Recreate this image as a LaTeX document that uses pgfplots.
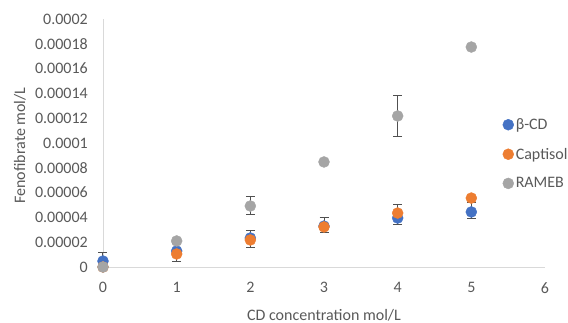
\documentclass[border=0pt]{standalone}
\usepackage{pgfplots}
\pgfplotsset{compat=1.18}
\usepackage{pgfplotstable}
\usepackage{fontspec}
\setmainfont{Carlito}
\definecolor{cdblue}{HTML}{4472C4}
\definecolor{cdorange}{HTML}{ED7D31}
\definecolor{cdgray}{HTML}{A5A5A5}
\definecolor{txt}{HTML}{595959}
\definecolor{axl}{HTML}{D9D9D9}
\definecolor{errc}{HTML}{505050}

\pgfplotstableread{
x y ep em
0 0.0000048 0.0000072 0.0000048
1 0.0000129 0.0000060 0.0000086
2 0.0000234 0.0000060 0.0000080
3 0.0000330 0.0000070 0.0000055
4 0.0000395 0.0000113 0.0000056
5 0.0000444 0.0000080 0.0000049
}\bcd
\pgfplotstableread{
x y
0 0.0000000
1 0.0000105
2 0.0000218
3 0.0000323
4 0.0000435
5 0.0000556
}\capt
\pgfplotstableread{
x y ep em
0 0.0000000 0 0
1 0.0000210 0 0
2 0.0000492 0.0000073 0.0000065
3 0.0000847 0 0
4 0.0001218 0.0000169 0.0000162
5 0.0001774 0 0
}\rameb

\begin{document}
\begin{tikzpicture}[font=\fontsize{16bp}{19bp}\selectfont]
\begin{axis}[
  name=ax,
  scale only axis,
  width=442bp, height=248bp,
  xmin=0, xmax=6, ymin=0, ymax=0.0002,
  clip=false,
  axis x line*=bottom, axis y line*=left,
  axis line style={axl, line width=0.8bp, -},
  major tick length=0pt,
  xtick={0,1,2,3,4,5,6},
  ytick={0,0.00002,0.00004,0.00006,0.00008,0.0001,0.00012,0.00014,0.00016,0.00018,0.0002},
  yticklabels={0,0.00002,0.00004,0.00006,0.00008,0.0001,0.00012,0.00014,0.00016,0.00018,0.0002},
  scaled y ticks=false,
  /pgf/number format/assume math mode=true,
  tick label style={text=txt},
  yticklabel style={inner sep=0pt, anchor=east, xshift=-15bp},
  xticklabel style={inner sep=0pt, anchor=north, yshift=-15bp},
  xlabel={CD concentration mol/L},
  ylabel={Fenofibrate mol/L},
  label style={text=txt},
  xlabel style={at={(axis description cs:0.5,0)}, anchor=center, yshift=-48bp},
  ylabel style={at={(axis description cs:-0.188,0.49)}, anchor=center},
  legend style={draw=none, fill=none, inner sep=0pt, at={(0.904,0.456)}, anchor=west,
    row sep=17bp, text=txt, nodes={inner xsep=2bp, inner ysep=0pt}},
  legend cell align=left,
  legend image code/.code={\draw[#1] plot coordinates {(5.5bp,0bp)};},
  every axis plot/.append style={only marks},
  error bars/error bar style={errc, line width=1bp},
  error bars/error mark options={errc, rotate=90, mark size=4.5bp, line width=1bp},
]
\addplot[mark=*, mark size=5.5bp, mark options={fill=cdblue, draw=cdblue},
  error bars/.cd, y dir=both, y explicit]
  table[x=x, y=y, y error plus=ep, y error minus=em]{\bcd};
\addlegendentry{β-CD}
\addplot[mark=*, mark size=5.5bp, mark options={fill=cdorange, draw=cdorange}]
  table[x=x, y=y]{\capt};
\addlegendentry{Captisol}
\addplot[mark=*, mark size=5.5bp, mark options={fill=cdgray, draw=cdgray},
  error bars/.cd, y dir=both, y explicit]
  table[x=x, y=y, y error plus=ep, y error minus=em]{\rameb};
\addlegendentry{RAMEB}
\end{axis}
\pgfresetboundingbox
\path ([shift={(-103bp,-56bp)}]ax.south west) rectangle ([shift={(23bp,19bp)}]ax.north east);
\end{tikzpicture}
\end{document}
